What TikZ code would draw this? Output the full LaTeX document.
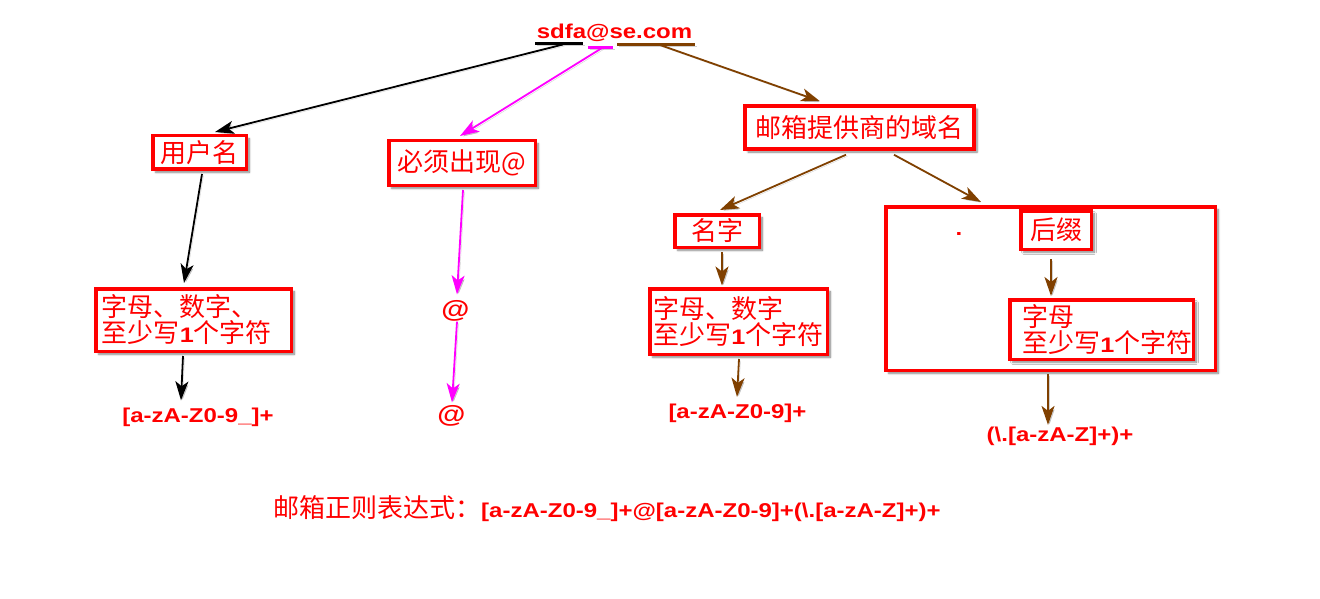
\documentclass[tikz,border=0pt]{standalone}
\usepackage{fontspec}
\setmainfont{Liberation Sans}
\newfontfamily\cjk{Noto Sans CJK SC}
\newfontfamily\rxfont{Liberation Sans}[FakeStretch=1.2]
\usetikzlibrary{arrows.meta,shadows.blur}
\definecolor{tred}{RGB}{255,0,0}
\definecolor{tmag}{RGB}{255,0,255}
\definecolor{tbrown}{RGB}{128,64,0}
\newcommand{\one}{{\rxfont\bfseries\fontsize{21}{26}\selectfont 1}}
\begin{document}
\begin{tikzpicture}[x=1pt,y=-1pt,
  box/.style={draw=tred, line width=3.5pt, fill=white, text=tred,
    font=\cjk\fontsize{26}{26}\selectfont, inner sep=0pt,
    blur shadow={shadow xshift=3pt, shadow yshift=-3pt,
      shadow blur steps=6, shadow opacity=50}},
  mbox/.style={box, align=left},
  rx/.style={text=tred, font=\rxfont\bfseries\fontsize{20}{24}\selectfont, inner sep=3pt},
  atsign/.style={rx, font=\rxfont\bfseries\fontsize{24}{28}\selectfont},
  arr/.style={line width=1.8pt, -{Stealth[length=19pt,width=13pt,inset=5pt]},
    preaction={draw=black, draw opacity=0.18, fill opacity=0.18,
      transform canvas={xshift=1.5pt,yshift=-1.5pt}}},
  uline/.style={line width=2.8pt,
    preaction={draw=black, draw opacity=0.18,
      transform canvas={xshift=1.5pt,yshift=-1.5pt}}},
]
\useasboundingbox (0,0) rectangle (1320,599);

% address and its three underlined parts
\node[rx, anchor=base, inner sep=0pt] (addr) at (614.5,39) {sdfa@se.com};
\coordinate (kA) at (535,43.5);  \coordinate (kB) at (583,43.5);
\coordinate (mA) at (588,47.5);  \coordinate (mB) at (613,47.5);
\coordinate (bA) at (617,44.5);  \coordinate (bB) at (695,44.5);
\coordinate (kS) at (563,44.5);
\coordinate (mS) at (602,48);
\coordinate (bS) at (660,45);
\draw[uline, black] (kA) -- (kB);
\draw[uline, tmag] (mA) -- (mB);
\draw[uline, tbrown] (bA) -- (bB);

% user name branch
\node[box, minimum width=93.5pt, minimum height=33.5pt] (user) at (199.5,152.5) {用户名};
\node[mbox, text width=183.5pt, inner xsep=6pt, minimum height=62.5pt] (lbox) at (193.5,320)
  {字母、数字、\\至少写\one 个字符};
\node[rx, anchor=base] (re1) at (198,422) {[a-zA-Z0-9\_]+};

% at-sign branch
\node[box, minimum width=146.5pt, minimum height=44.5pt] (must) at (462,163) {必须出现@};
\node[atsign] (at1) at (455.5,311) {@};
\node[atsign] (at2) at (451.5,416) {@};

% domain branch
\node[box, minimum width=229pt, minimum height=43pt] (domain) at (859.5,127.5) {邮箱提供商的域名};
\node[box, minimum width=84.5pt, minimum height=32.5pt] (name) at (717,231) {名字};
\node[mbox, text width=170.5pt, inner xsep=3.5pt, minimum height=65.5pt] (mid) at (738.5,321.5)
  {字母、数字\\至少写\one 个字符};
\node[rx, anchor=base] (re2) at (737.5,418) {[a-zA-Z0-9]+};

\node[box, minimum width=329.5pt, minimum height=163.5pt] (group) at (1050.5,288.5) {};
\node[rx, anchor=base, inner sep=0pt] (dot) at (959,235) {.};
\node[box, minimum width=70.5pt, minimum height=38.5pt] (suffix) at (1056,230) {后缀};
\node[mbox, text width=158.5pt, inner xsep=12.5pt, minimum height=59.5pt] (ibox) at (1101.5,329.5)
  {字母\\至少写\one 个字符};
\node[rx, anchor=base] (re3) at (1060,441) {(\textbackslash.[a-zA-Z]+)+};

% complete expression
\node[anchor=base west, inner sep=0pt, text=tred] (full) at (273,517)
  {{\cjk\fontsize{26}{26}\selectfont 邮箱正则表达式：}{\rxfont\bfseries\fontsize{20}{24}\selectfont [a-zA-Z0-9\_]+@[a-zA-Z0-9]+(\textbackslash.[a-zA-Z]+)+}};

% connectors
\draw[arr, black] (kS) -- ([xshift=15.5pt,yshift=2pt]user.north);
\draw[arr, tmag] (mS) -- ([xshift=-2pt,yshift=3pt]must.north);
\draw[arr, tbrown] (bS) -- ([xshift=-39.5pt,yshift=3pt]domain.north);

\draw[arr, black] ([xshift=2.5pt,yshift=-3pt]user.south) -- ([xshift=-9.5pt,yshift=4pt]lbox.north);
\draw[arr, black] ([xshift=-10.5pt,yshift=-3pt]lbox.south) -- ([xshift=-17pt,yshift=4pt]re1.north);

\draw[arr, tmag] ([xshift=1pt,yshift=-3pt]must.south) -- ([xshift=1.5pt,yshift=3pt]at1.north);
\draw[arr, tmag] ([xshift=1.5pt,yshift=3pt]at1.south) -- ([xshift=0.5pt,yshift=0pt]at2.north);

\draw[arr, tbrown] ([xshift=-13.5pt,yshift=-4pt]domain.south) -- ([xshift=3pt,yshift=3pt]name.north);
\draw[arr, tbrown] ([xshift=34.5pt,yshift=-4pt]domain.south) -- ([xshift=-69.5pt,yshift=3pt]group.north);
\draw[arr, tbrown] ([xshift=5pt,yshift=-3pt]name.south) -- ([xshift=-16.5pt,yshift=1.5pt]mid.north);
\draw[arr, tbrown] ([xshift=0.5pt,yshift=-3pt]mid.south) -- ([xshift=-0.5pt,yshift=3.4pt]re2.north);
\draw[arr, tbrown] ([xshift=-5pt,yshift=-8pt]suffix.south) -- ([xshift=-50.5pt,yshift=2pt]ibox.north);
\draw[arr, tbrown] ([xshift=-2.5pt,yshift=-2pt]group.south) -- ([xshift=-12pt,yshift=-1.6pt]re3.north);
\end{tikzpicture}
\end{document}
